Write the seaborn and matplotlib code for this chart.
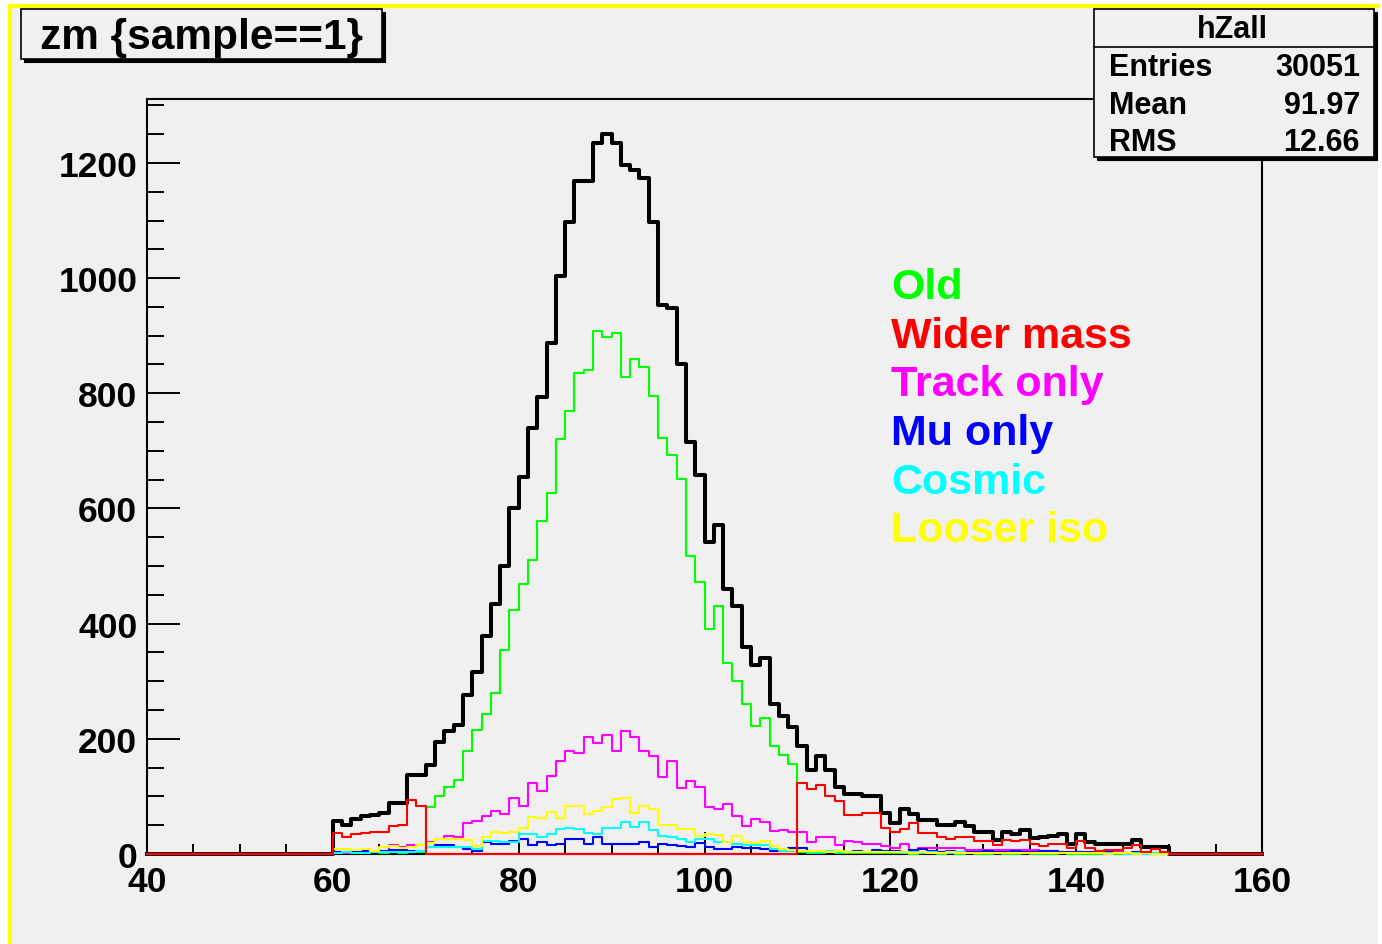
import numpy as np
import pandas as pd
import matplotlib
matplotlib.use("Agg")
import matplotlib.pyplot as plt
from matplotlib.patches import Rectangle
from matplotlib.lines import Line2D
from matplotlib.ticker import MultipleLocator
import seaborn as sns

# ---------------- data (1 GeV bins, low edges 60..149) ----------------
bin_low_edges = list(range(60, 150))

all_counts = [
    58, 50, 60, 66, 68, 72, 88, 88, 137, 137,
    154, 194, 214, 224, 276, 316, 378, 434, 500, 600,
    655, 739, 793, 887, 1004, 1098, 1168, 1168, 1234, 1251,
    1234, 1196, 1187, 1173, 1098, 954, 948, 850, 716, 658,
    541, 572, 460, 431, 359, 329, 340, 260, 240, 220,
    188, 145, 171, 146, 116, 104, 104, 100, 100, 72,
    54, 79, 69, 59, 59, 50, 50, 56, 48, 39,
    39, 25, 38, 35, 42, 27, 29, 32, 35, 17,
    35, 21, 17, 17, 17, 17, 25, 13, 13, 13]

old_counts = [
    1, 2, 1, 2, 3, 2, 3, 2, 3, 4,
    81, 100, 117, 128, 179, 215, 243, 279, 355, 423,
    468, 511, 578, 627, 720, 769, 835, 840, 908, 897,
    904, 828, 859, 845, 796, 722, 692, 651, 517, 472,
    390, 431, 331, 301, 261, 222, 237, 187, 172, 157,
    3, 2, 2, 3, 2, 1, 2, 2, 1, 2,
    1, 1, 0, 1, 1, 0, 1, 0, 1, 0,
    0, 1, 0, 0, 1, 0, 0, 0, 1, 0,
    0, 0, 0, 1, 0, 0, 0, 0, 0, 0]

wider_counts = [
    36, 30, 35, 37, 38, 38, 49, 51, 94, 83,
    0, 0, 0, 0, 0, 0, 0, 0, 0, 0,
    0, 0, 0, 0, 0, 0, 0, 0, 0, 0,
    0, 0, 0, 0, 0, 0, 0, 0, 0, 0,
    0, 0, 0, 0, 0, 0, 0, 0, 0, 0,
    123, 112, 120, 101, 92, 67, 67, 71, 71, 45,
    38, 43, 53, 36, 36, 29, 26, 29, 29, 23,
    23, 16, 25, 23, 25, 17, 14, 17, 17, 11,
    22, 11, 6, 7, 7, 10, 16, 4, 8, 4]

track_counts = [
    3, 2, 3, 3, 4, 6, 16, 12, 16, 16,
    20, 26, 32, 30, 54, 58, 66, 74, 69, 98,
    84, 123, 110, 136, 161, 178, 176, 203, 192, 206,
    178, 213, 203, 178, 171, 133, 161, 114, 126, 116,
    81, 78, 87, 66, 49, 60, 55, 40, 42, 39,
    39, 20, 29, 29, 16, 23, 20, 17, 17, 14,
    11, 17, 6, 11, 11, 11, 11, 11, 7, 7,
    7, 7, 7, 7, 7, 7, 5, 5, 4, 4,
    4, 3, 3, 3, 3, 2, 4, 2, 2, 2]

mu_counts = [
    3, 4, 4, 5, 4, 5, 7, 7, 6, 5,
    12, 16, 16, 12, 9, 5, 21, 17, 17, 23,
    26, 15, 21, 15, 17, 26, 26, 17, 29, 17,
    17, 17, 17, 21, 12, 17, 15, 14, 12, 19,
    12, 9, 9, 12, 10, 10, 9, 5, 6, 11,
    11, 5, 6, 4, 6, 3, 5, 4, 7, 6,
    5, 4, 7, 8, 6, 4, 5, 3, 4, 3,
    5, 4, 3, 5, 4, 3, 5, 6, 3, 4,
    3, 4, 2, 3, 2, 2, 3, 1, 2, 1]

cosmic_counts = [
    2, 3, 2, 2, 3, 3, 3, 4, 4, 6,
    12, 12, 12, 12, 12, 9, 23, 23, 20, 20,
    34, 34, 30, 34, 43, 46, 43, 37, 34, 46,
    46, 55, 47, 56, 42, 32, 30, 26, 21, 26,
    26, 21, 21, 17, 16, 16, 15, 8, 5, 5,
    5, 4, 4, 5, 3, 4, 3, 3, 4, 3,
    3, 2, 3, 2, 3, 2, 2, 3, 2, 2,
    2, 1, 2, 2, 1, 2, 1, 1, 2, 1,
    1, 1, 1, 1, 1, 0, 1, 0, 1, 0]

looser_counts = [
    8, 8, 7, 8, 6, 12, 14, 10, 13, 16,
    19, 26, 26, 26, 25, 14, 30, 39, 37, 39,
    46, 64, 62, 73, 62, 84, 84, 69, 74, 81,
    95, 98, 71, 84, 78, 50, 50, 43, 43, 31,
    35, 33, 20, 32, 21, 19, 22, 14, 9, 7,
    6, 5, 6, 4, 5, 4, 3, 4, 3, 3,
    3, 3, 2, 3, 2, 2, 3, 2, 2, 2,
    2, 2, 1, 2, 1, 1, 2, 1, 1, 1,
    1, 1, 1, 0, 1, 1, 0, 1, 0, 0]

legend_labels = ["Old", "Wider mass", "Track only", "Mu only", "Cosmic", "Looser iso"]
legend_colors = ["#00ff00", "#ff0000", "#ff00ff", "#0000ff", "#00ffff", "#ffff00"]

title_text = "zm {sample==1}"
stats_title = "hZall"
stats_labels = ["Entries", "Mean", "RMS"]
stats_values = ["30051", "91.97", "12.66"]

x_range = (40, 160)
y_max = 1311

# ---------------- style ----------------
W, H = 1382, 945
plt.rcParams["font.family"] = ["Liberation Sans", "DejaVu Sans"]
plt.rcParams["font.weight"] = "bold"

fig = plt.figure(figsize=(W / 100, H / 100), dpi=100, facecolor="white")

def fx(x):
    return x / W

def fy(y):
    return 1 - y / H

BG = "#f0f0f0"
# canvas background with yellow left/top border
fig.patches.append(Rectangle((fx(10), 0), fx(1378) - fx(10), fy(7), transform=fig.transFigure,
                             facecolor=BG, edgecolor="none", zorder=-10))
fig.lines.append(Line2D([fx(10), fx(10)], [0, fy(7)], transform=fig.transFigure,
                        color="#ffff00", lw=3.0, zorder=-9))
fig.lines.append(Line2D([fx(10), fx(1378)], [fy(7), fy(7)], transform=fig.transFigure,
                        color="#ffff00", lw=3.0, zorder=-9))

ax = fig.add_axes([fx(147), fy(855), fx(1262) - fx(147), fy(100) - fy(855)])
ax.set_facecolor("none")

centers = np.array(bin_low_edges) + 0.5
df = pd.DataFrame({
    "mass": centers,
    "All": all_counts,
    "Old": old_counts,
    "Wider mass": wider_counts,
    "Track only": track_counts,
    "Mu only": mu_counts,
    "Cosmic": cosmic_counts,
    "Looser iso": looser_counts,
})

nbins = x_range[1] - x_range[0]
common = dict(x="mass", bins=nbins, binrange=x_range, element="step", fill=False,
              clip_on=False, ax=ax)

sns.histplot(data=df, weights="All", color="black", linewidth=2.9, zorder=3, **common)
draw_order = ["Old", "Track only", "Mu only", "Cosmic", "Looser iso", "Wider mass"]
for name in draw_order:
    col = legend_colors[legend_labels.index(name)]
    sns.histplot(data=df, weights=name, color=col, linewidth=1.5, zorder=4, **common)

ax.set_xlim(*x_range)
ax.set_ylim(0, y_max)
ax.set_xlabel("")
ax.set_ylabel("")

for s in ax.spines.values():
    s.set_linewidth(1.5)
    s.set_color("black")
    s.set_zorder(2.5)

ax.xaxis.set_major_locator(MultipleLocator(20))
ax.xaxis.set_minor_locator(MultipleLocator(5))
ax.yaxis.set_major_locator(MultipleLocator(200))
ax.yaxis.set_minor_locator(MultipleLocator(50))
ax.tick_params(axis="x", which="major", direction="in", length=16, width=1.4,
               labelsize=25.5, pad=8, top=False)
ax.tick_params(axis="x", which="minor", direction="in", length=7.5, width=1.4, top=False)
ax.tick_params(axis="y", which="major", direction="in", length=24, width=1.4,
               labelsize=25.5, pad=7, right=False)
ax.tick_params(axis="y", which="minor", direction="in", length=12, width=1.4, right=False)
for lab in ax.get_xticklabels() + ax.get_yticklabels():
    lab.set_fontweight("bold")

# legend-like coloured texts
for i, (lab, col) in enumerate(zip(legend_labels, legend_colors)):
    base_y = 299 + i * 48.7
    fig.text(fx(891), fy(base_y), lab, color=col, fontsize=31, fontweight="bold",
             ha="left", va="baseline")

# title box with shadow
def shadow_box(x0, y0, x1, y1, off=4):
    fig.patches.append(Rectangle((fx(x0 + off), fy(y1 + off)), fx(x1) - fx(x0), fy(y0) - fy(y1),
                                 transform=fig.transFigure, facecolor="black",
                                 edgecolor="black", lw=0.8, zorder=5))
    fig.patches.append(Rectangle((fx(x0), fy(y1)), fx(x1) - fx(x0), fy(y0) - fy(y1),
                                 transform=fig.transFigure, facecolor=BG,
                                 edgecolor="black", lw=1.2, zorder=6))

shadow_box(21, 10, 382, 60, off=3)
fig.text(fx(202), fy(38), title_text, fontsize=30.5, fontweight="bold",
         ha="center", va="center", zorder=7)

# stats box
shadow_box(1094, 10, 1374, 158, off=3)
fig.lines.append(Line2D([fx(1094), fx(1374)], [fy(48), fy(48)], transform=fig.transFigure,
                        color="black", lw=1.2, zorder=7))
fig.text(fx(1232), fy(30), stats_title, fontsize=22, fontweight="bold",
         ha="center", va="center", zorder=7)
for i, (lab, val) in enumerate(zip(stats_labels, stats_values)):
    yy = 68 + i * 37.5
    fig.text(fx(1109), fy(yy), lab, fontsize=22, fontweight="bold",
             ha="left", va="center", zorder=7)
    fig.text(fx(1360), fy(yy), val, fontsize=22, fontweight="bold",
             ha="right", va="center", zorder=7)

fig.savefig("out.png", dpi=100, facecolor="white")
